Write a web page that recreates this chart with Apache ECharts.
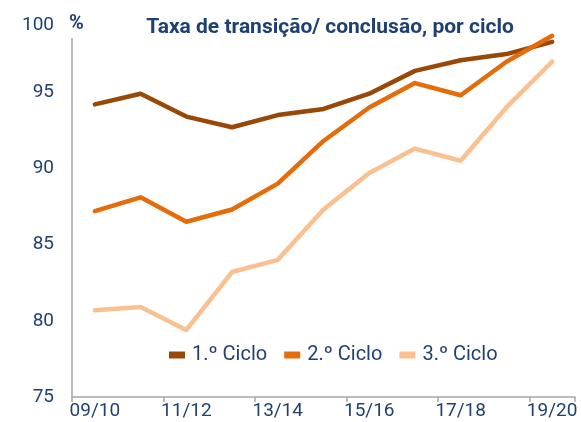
<!DOCTYPE html>
<html>
<head>
<meta charset="utf-8">
<script src="https://cdn.jsdelivr.net/npm/echarts@6/dist/echarts.min.js"></script>
<style>
  html, body { margin: 0; padding: 0; background: #fff; }
  #chart { width: 581px; height: 422px; }
</style>
</head>
<body>
<div id="chart"></div>
<script>
const anos = ['09/10', '10/11', '11/12', '12/13', '13/14', '14/15', '15/16', '16/17', '17/18', '18/19', '19/20']
const ciclo1 = [94.2, 94.9, 93.4, 92.7, 93.5, 93.9, 94.9, 96.4, 97.1, 97.5, 98.3]
const ciclo2 = [87.2, 88.1, 86.5, 87.3, 89.0, 91.8, 94.0, 95.6, 94.8, 97.0, 98.7]
const ciclo3 = [80.7, 80.9, 79.4, 83.2, 84.0, 87.3, 89.7, 91.3, 90.5, 94.0, 97.0]

const azul = '#1F4170'
const myChart = echarts.init(document.getElementById('chart'))

const linha = (name, data, color) => ({
  name: name,
  type: 'line',
  data: data,
  symbol: 'none',
  itemStyle: { color: color },
  lineStyle: { color: color, width: 4.5, cap: 'round', join: 'round' },
})

const option = {
  animation: false,
  textStyle: { fontFamily: 'Roboto' },
  title: {
    text: 'Taxa de transição/ conclusão, por ciclo',
    left: 325,
    textAlign: 'center',
    top: 12,
    textStyle: { color: azul, fontSize: 21, fontWeight: 'bold', fontFamily: 'Roboto' },
  },
  graphic: [
    {
      type: 'text',
      left: 68,
      top: 14,
      z: 100,
      style: {
        text: '%',
        fill: azul,
        font: 'bold 20px Roboto',
        backgroundColor: '#fff',
        padding: [0, 1, 4, 1],
      },
    },
  ],
  legend: {
    left: 169,
    top: 345,
    padding: 0,
    itemWidth: 16,
    itemHeight: 7,
    itemGap: 17,
    icon: 'rect',
    textStyle: { color: azul, fontSize: 20, fontFamily: 'Roboto', padding: [0, 0, 0, 2] },
    data: ['1.º Ciclo', '2.º Ciclo', '3.º Ciclo'],
  },
  grid: { left: 72, right: 6, top: 16, bottom: 25, containLabel: false },
  xAxis: {
    type: 'category',
    data: anos,
    boundaryGap: true,
    axisLine: { lineStyle: { color: '#A6A6A6', width: 1.5 } },
    axisTick: { show: true, interval: 1, length: 5, lineStyle: { color: '#A6A6A6', width: 1.5 } },
    axisLabel: { interval: 1, color: azul, fontSize: 19, margin: 5 },
  },
  yAxis: {
    type: 'value',
    min: 75,
    max: 100,
    interval: 5,
    axisLine: { show: true, lineStyle: { color: '#A6A6A6', width: 1.5 } },
    axisTick: { show: false },
    splitLine: { show: false },
    axisLabel: {
      color: azul,
      fontSize: 19,
      margin: 18,
      formatter: function (value) {
        return value === 100 ? '{topo|100}' : String(value)
      },
      rich: {
        topo: { color: azul, fontSize: 19, fontFamily: 'Roboto', padding: [18, 0, 0, 0] },
      },
    },
  },
  series: [
    linha('1.º Ciclo', ciclo1, '#984807'),
    linha('2.º Ciclo', ciclo2, '#E46C0A'),
    linha('3.º Ciclo', ciclo3, '#FAC090'),
  ],
}
myChart.setOption(option)
</script>
</body>
</html>
